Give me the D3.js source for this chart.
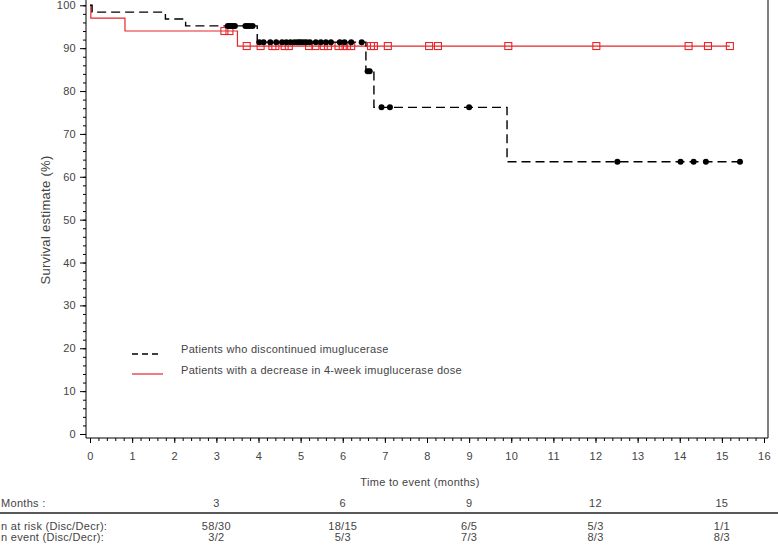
<!DOCTYPE html>
<html>
<head>
<meta charset="utf-8">
<script src="https://cdn.jsdelivr.net/npm/d3@7"></script>
<style>
  body { margin: 0; background: #fff; }
  text { font-family: "Liberation Sans", Arial, sans-serif; font-size: 11px; fill: #444; letter-spacing: 0.3px; }
</style>
</head>
<body>
<div id="chart"></div>
<script>
var svgWidth = 778;
var svgHeight = 546;

// Kaplan-Meier steps, patients who discontinued
var discStepTimes = [0, 0.05, 1.79, 2.27, 3.97, 6.55, 6.74, 9.9];
var discStepValues = [100, 98.4, 96.8, 95.2, 91.4, 84.6, 76.2, 63.5];
var discEndTime = 15.43;
var discCensorTimes = [3.27, 3.31, 3.35, 3.39, 3.44, 3.69, 3.74, 3.79, 3.86, 4.02, 4.12, 4.28, 4.42, 4.56, 4.66,
  4.76, 4.85, 4.92, 4.97, 5.02, 5.08, 5.14, 5.22, 5.36, 5.48, 5.6, 5.72, 5.93, 6.04, 6.2, 6.45, 6.59, 6.64,
  6.92, 7.12, 9.0, 12.52, 14.02, 14.33, 14.62, 15.43];

// Kaplan-Meier steps, patients with a dose decrease
var decrStepTimes = [0, 0.02, 0.83, 3.5];
var decrStepValues = [100, 97.0, 94.0, 90.5];
var decrEndTime = 15.19;
var decrCensorTimes = [3.19, 3.31, 3.72, 4.05, 4.33, 4.4, 4.62, 4.72, 5.2, 5.35, 5.55, 5.65, 5.9, 6.0, 6.1,
  6.2, 6.67, 6.74, 7.07, 8.05, 8.26, 9.93, 12.02, 14.21, 14.67, 15.19];

// risk table
var riskMonths = [3, 6, 9, 12, 15];
var riskCounts = ["58/30", "18/15", "6/5", "5/3", "1/1"];
var eventCounts = ["3/2", "5/3", "7/3", "8/3", "8/3"];

var legendLabels = ["Patients who discontinued imuglucerase", "Patients with a decrease in 4-week imuglucerase dose"];

var svg = d3.select("#chart")
  .append("svg")
  .attr("width", svgWidth)
  .attr("height", svgHeight);

var xScale = d3.scaleLinear().domain([0, 16]).range([90, 764]);
var yScale = d3.scaleLinear().domain([0, 100]).range([434, 5.3]);

var axisY = 438;
var axisX = 86;

// survival value at time t from a step table
function survivalAt(times, values, t) {
  var i = d3.bisectRight(times, t) - 1;
  return values[Math.max(i, 0)];
}

// Axes
// ==============================
svg.append("g")
  .attr("transform", `translate(0, ${axisY})`)
  .call(d3.axisBottom(xScale).tickValues(d3.range(0, 16.01, 0.2)).tickSize(3).tickFormat(""))
  .call(g => g.select(".domain").remove());

svg.append("g")
  .attr("transform", `translate(0, ${axisY})`)
  .call(d3.axisBottom(xScale).tickValues(d3.range(0, 17)).tickSize(5).tickPadding(9).tickFormat(d3.format("d")))
  .call(g => g.select(".domain").remove())
  .call(g => g.selectAll("text").style("font-size", "11px").attr("fill", "#444"));

svg.append("g")
  .attr("transform", `translate(${axisX}, 0)`)
  .call(d3.axisLeft(yScale).tickValues(d3.range(0, 100.1, 2)).tickSize(3).tickFormat(""))
  .call(g => g.select(".domain").remove());

svg.append("g")
  .attr("transform", `translate(${axisX}, 0)`)
  .call(d3.axisLeft(yScale).tickValues(d3.range(0, 101, 10)).tickSize(6).tickPadding(4))
  .call(g => g.select(".domain").remove())
  .call(g => g.selectAll("text").style("font-size", "11px").attr("fill", "#444"));

svg.append("line").attr("x1", axisX).attr("x2", axisX).attr("y1", 0).attr("y2", axisY).attr("stroke", "#000");
svg.append("line").attr("x1", axisX).attr("x2", 768).attr("y1", axisY).attr("y2", axisY).attr("stroke", "#000");
svg.append("line").attr("x1", 768).attr("x2", 768).attr("y1", 0).attr("y2", axisY).attr("stroke", "#000");

svg.append("text")
  .attr("transform", "rotate(-90)")
  .attr("x", -220)
  .attr("y", 50)
  .attr("text-anchor", "middle")
  .style("font-size", "13px")
  .text("Survival estimate (%)");

svg.append("text")
  .attr("x", 420)
  .attr("y", 486)
  .attr("text-anchor", "middle")
  .text("Time to event (months)");

// Curves
// ==============================
var stepLine = d3.line()
  .x(d => xScale(d[0]))
  .y(d => yScale(d[1]))
  .curve(d3.curveStepAfter);

var decrPoints = decrStepTimes.map((t, i) => [t, decrStepValues[i]]);
decrPoints.push([decrEndTime, decrStepValues[decrStepValues.length - 1]]);
var discPoints = discStepTimes.map((t, i) => [t, discStepValues[i]]);
discPoints.push([discEndTime, discStepValues[discStepValues.length - 1]]);

svg.append("path")
  .attr("d", stepLine(decrPoints))
  .attr("fill", "none")
  .attr("stroke", "#e8262a")
  .attr("stroke-width", 1.2);

svg.selectAll(".decrMark")
  .data(decrCensorTimes)
  .enter()
  .append("rect")
  .attr("class", "decrMark")
  .attr("x", d => xScale(d) - 3.5)
  .attr("y", d => yScale(survivalAt(decrStepTimes, decrStepValues, d)) - 3.5)
  .attr("width", 7)
  .attr("height", 7)
  .attr("fill", "none")
  .attr("stroke", "#e8262a")
  .attr("stroke-width", 1.1);

svg.append("path")
  .attr("d", stepLine(discPoints))
  .attr("fill", "none")
  .attr("stroke", "#000")
  .attr("stroke-width", 1.4)
  .attr("stroke-dasharray", "9,5");

svg.selectAll(".discMark")
  .data(discCensorTimes)
  .enter()
  .append("circle")
  .attr("class", "discMark")
  .attr("cx", d => xScale(d))
  .attr("cy", d => yScale(survivalAt(discStepTimes, discStepValues, d)))
  .attr("r", 3)
  .attr("fill", "#000");

// Legend
// ==============================
svg.append("line")
  .attr("x1", 132).attr("x2", 158).attr("y1", 354).attr("y2", 354)
  .attr("stroke", "#000").attr("stroke-width", 1.4).attr("stroke-dasharray", "6,4");
svg.append("line")
  .attr("x1", 132).attr("x2", 163).attr("y1", 374).attr("y2", 374)
  .attr("stroke", "#e8262a").attr("stroke-width", 1.2);

svg.selectAll(".legendText")
  .data(legendLabels)
  .enter()
  .append("text")
  .attr("class", "legendText")
  .attr("x", 181)
  .attr("y", (d, i) => 353 + i * 21)
  .text(d => d);

// Risk table
// ==============================
var monthsY = 507;
var riskY = 530;
var eventY = 541;

svg.append("text").attr("x", 1).attr("y", monthsY).text("Months :");
svg.append("line").attr("x1", 0).attr("x2", svgWidth).attr("y1", 513).attr("y2", 513)
  .attr("stroke", "#222").attr("stroke-width", 1.5);
svg.append("text").attr("x", 1).attr("y", riskY).text("n at risk (Disc/Decr):");
svg.append("text").attr("x", 1).attr("y", eventY).text("n event (Disc/Decr):");

svg.selectAll(".monthLabel")
  .data(riskMonths)
  .enter()
  .append("text")
  .attr("x", d => xScale(d))
  .attr("y", monthsY)
  .attr("text-anchor", "middle")
  .text(d => d);

svg.selectAll(".riskLabel")
  .data(riskCounts)
  .enter()
  .append("text")
  .attr("x", (d, i) => xScale(riskMonths[i]))
  .attr("y", riskY)
  .attr("text-anchor", "middle")
  .text(d => d);

svg.selectAll(".eventLabel")
  .data(eventCounts)
  .enter()
  .append("text")
  .attr("x", (d, i) => xScale(riskMonths[i]))
  .attr("y", eventY)
  .attr("text-anchor", "middle")
  .text(d => d);
</script>
</body>
</html>
